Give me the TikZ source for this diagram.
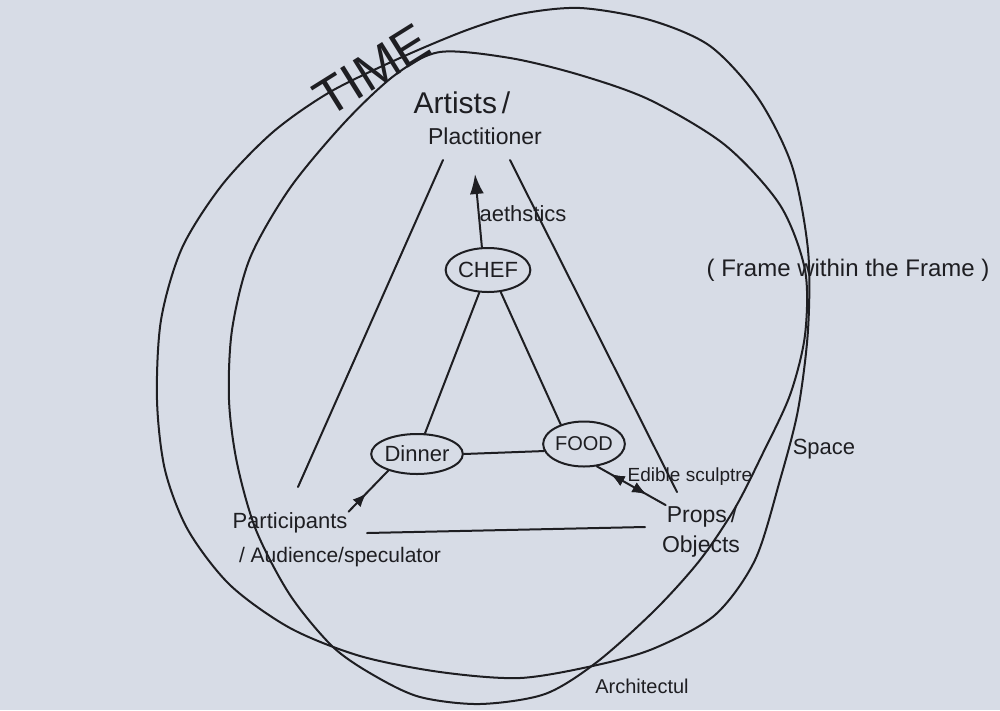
\documentclass[tikz,border=0pt]{standalone}
\usepackage{fontspec}
\setmainfont{Liberation Sans}
\usetikzlibrary{shapes.geometric,arrows.meta,decorations.markings}

\definecolor{paper}{RGB}{215,220,230}
\definecolor{pen}{RGB}{30,30,34}
\newcommand\penfs[1]{\fontsize{#1}{#1}\selectfont}

\tikzset{
  ink/.style={draw=pen, line width=2pt, line cap=round, line join=round},
  blob/.style={ellipse, draw=pen, line width=2pt, inner sep=0pt, text=pen},
  note/.style={text=pen, inner sep=1pt},
  tipat/.style={postaction={decorate}, decoration={markings,
    mark=at position #1 with {\arrow{Latex[length=14pt,width=11pt]}}}},
  tipback/.style={postaction={decorate}, decoration={markings,
    mark=at position #1 with {\arrowreversed{Latex[length=14pt,width=11pt]}}}}
}

\begin{document}
\begin{tikzpicture}[x=1pt, y=-1pt]
    \fill[paper] (0,0) rectangle (1000,710);
    \useasboundingbox (0,0) rectangle (1000,710);

    % the two frames
    \draw[ink] plot[smooth cycle, tension=0.5] coordinates {
      (580,8) (650,20) (710,46) (758,98) (792,166) (808,250) (808,330)
      (798,410) (780,480) (755,560) (715,615) (655,648) (597,665) (520,678)
      (440,672) (360,656) (290,628) (230,585) (188,530) (165,470) (157,400)
      (161,320) (182,248) (222,185) (273,132) (330,92) (400,58) (467,30)
      (520,14)};
    \draw[ink] plot[smooth cycle, tension=0.5] coordinates {
      (440,52) (510,58) (580,75) (650,100) (725,145) (780,205) (805,270)
      (805,335) (790,395) (762,455) (735,508) (700,560) (655,610) (597,662)
      (545,694) (480,704) (420,697) (375,676) (333,647) (290,595) (256,530)
      (237,463) (229,400) (232,330) (250,258) (290,188) (345,122) (395,75)};

    \node[note, font=\penfs{52}, rotate=32] (time) at (372,70) {TIME};

    % corners of the outer triangle
    \coordinate (ltop) at (443,160);
    \coordinate (lbot) at (298,487);
    \coordinate (rtop) at (510,160);
    \coordinate (rbot) at (677,492);
    \coordinate (bl) at (367,533);
    \coordinate (br) at (645,527);
    \coordinate (aestop) at (475,174);

    \node[note, font=\penfs{30}] (artists) at (462,103) {Artists\,/};
    \node[note, font=\penfs{23}] (plact) at (485,136) {Plactitioner};

    \node[blob, font=\penfs{22}, minimum width=77pt, minimum height=44pt] (chef) at (488,270) {CHEF};
    \node[blob, font=\penfs{22}, minimum width=86pt, minimum height=40pt] (dinner) at (417,454) {Dinner};
    \node[blob, font=\penfs{20}, minimum width=75pt, minimum height=45pt] (food) at (584,444) {FOOD};

    \node[note, font=\penfs{22}] (aes) at (523,214) {aethstics};
    \node[note, font=\penfs{22}] (part) at (290,523) {Participants};
    \node[note, font=\penfs{21}] (aud) at (340,557) {/ Audience/speculator};
    \node[note, font=\penfs{19}] (edible) at (690,477) {Edible sculptre};
    \node[note, font=\penfs{23}] (props) at (702,517) {Props\,/};
    \node[note, font=\penfs{23}] (objects) at (701,547) {Objects};
    \node[note, font=\penfs{22}] (space) at (824,449) {Space};
    \node[note, font=\penfs{20}] (archi) at (642,686) {Architectul};
    \node[note, font=\penfs{24}] (frame) at (848,270) {( Frame within the Frame )};

    \draw[ink] (ltop) -- (lbot);
    \draw[ink] (rtop) -- (rbot);
    \draw[ink] (bl) -- (br);

    \draw[ink] (chef) -- (dinner);
    \draw[ink] (chef.300) -- (food.140);
    \draw[ink] (dinner.east) -- (food.190);

    \draw[ink, -{Latex[length=20pt,width=14pt]}] (chef.105) -- (aestop);
    \draw[ink, tipat=0.45] (part.north east) -- (dinner.210);
    \draw[ink, tipback=0.2, tipat=0.72] (food.300) -- (props.north west);

\end{tikzpicture}
\end{document}
